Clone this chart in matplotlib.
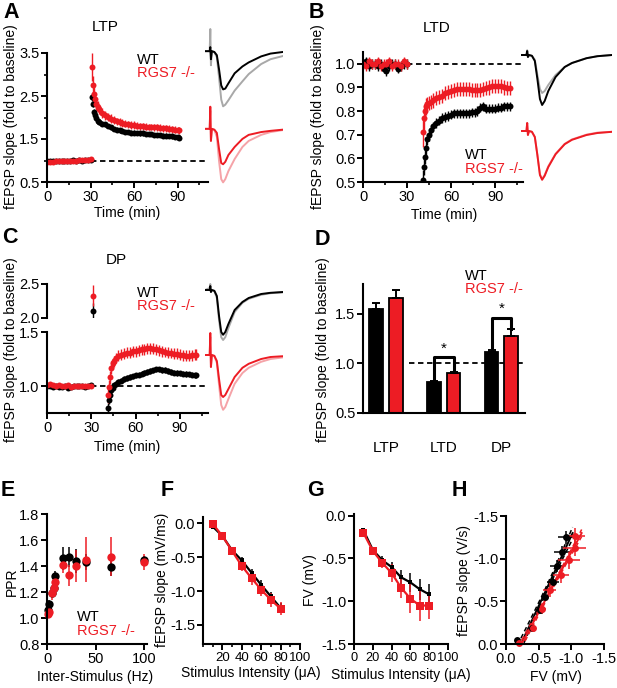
import numpy as np
import matplotlib
matplotlib.use('Agg')
import matplotlib.pyplot as plt
from matplotlib.ticker import MultipleLocator, FormatStrFormatter

plt.rcParams['font.family'] = ['Liberation Sans', 'DejaVu Sans']
plt.rcParams['axes.unicode_minus'] = False

RED = '#ed1c24'
GREY = '#a8a8a8'
PINK = '#f5a3a8'

# ---------------- data ----------------
# A: LTP time course
A_T_BASE = [0, 2, 4, 6, 8, 10, 12, 14, 16, 18, 20, 22, 24, 26, 28, 30]
A_WT_BASE = [0.98, 0.99, 0.98, 1.00, 0.99, 1.00, 0.99, 1.00, 1.00, 1.01, 1.00, 1.01, 1.00, 1.01, 1.02, 1.02]
A_KO_BASE = [0.96, 0.97, 0.97, 0.98, 0.98, 0.99, 0.99, 0.99, 1.00, 1.00, 1.00, 1.01, 1.01, 1.02, 1.02, 1.03]
A_BASE_ERR = [0.03, 0.03, 0.02, 0.03, 0.03, 0.02, 0.03, 0.03, 0.02, 0.03, 0.03, 0.02, 0.03, 0.03, 0.02, 0.03]
A_T_POST = [31, 31.7, 32.4, 33, 34, 35, 36, 38, 40, 42, 44, 46, 48, 50, 52, 54, 56, 58, 60, 62,
            64, 66, 68, 70, 72, 74, 76, 78, 80, 82, 84, 86, 88, 90, 91]
A_KO_POST = [3.18, 2.75, 2.55, 2.42, 2.32, 2.25, 2.19, 2.10, 2.05, 2.01, 1.97, 1.94, 1.91, 1.89, 1.87,
             1.86, 1.84, 1.83, 1.82, 1.81, 1.80, 1.80, 1.79, 1.78, 1.78, 1.77, 1.77, 1.76, 1.75, 1.75,
             1.74, 1.73, 1.72, 1.71, 1.70]
A_KO_ERR = [0.32, 0.22, 0.18, 0.15, 0.14, 0.13, 0.12, 0.11, 0.10, 0.10, 0.10, 0.10, 0.09, 0.09, 0.09,
            0.09, 0.09, 0.09, 0.09, 0.08, 0.08, 0.08, 0.08, 0.08, 0.08, 0.08, 0.08, 0.08, 0.08, 0.08,
            0.08, 0.08, 0.08, 0.08, 0.08]
A_WT_POST = [2.48, 2.32, 2.13, 2.05, 1.98, 1.93, 1.89, 1.86, 1.84, 1.80, 1.77, 1.74, 1.72, 1.70, 1.69,
             1.67, 1.66, 1.65, 1.65, 1.64, 1.63, 1.63, 1.62, 1.62, 1.61, 1.60, 1.60, 1.59, 1.58, 1.58,
             1.57, 1.56, 1.55, 1.54, 1.53]
A_WT_ERR = [0.10, 0.08, 0.07, 0.07, 0.07, 0.06, 0.06, 0.06, 0.05, 0.05, 0.05, 0.05, 0.05, 0.05, 0.05,
            0.05, 0.05, 0.05, 0.05, 0.05, 0.05, 0.05, 0.05, 0.05, 0.05, 0.05, 0.05, 0.05, 0.05, 0.05,
            0.05, 0.05, 0.05, 0.05, 0.05]

# B: LTD time course
B_T_BASE = [0, 2, 4, 6, 8, 10, 12, 14, 16, 18, 20, 22, 24, 26, 28, 30]
B_WT_BASE = [1.00, 1.01, 0.99, 1.00, 1.00, 0.99, 1.00, 0.98, 0.97, 0.99, 1.00, 1.00, 0.98, 0.99, 1.00, 1.00]
B_KO_BASE = [1.00, 0.99, 1.01, 1.00, 1.00, 1.01, 0.99, 1.00, 1.00, 1.01, 0.99, 1.00, 1.00, 0.99, 1.01, 1.00]
B_BASE_ERR = [0.02, 0.02, 0.02, 0.02, 0.02, 0.02, 0.02, 0.02, 0.02, 0.02, 0.02, 0.02, 0.02, 0.02, 0.02, 0.02]
B_T_POST = [40.7, 41.4, 42, 42.7, 43.6, 45, 46.5, 48, 50, 52, 54, 56, 58, 60, 62, 64, 66, 68, 70, 72,
            74, 76, 78, 80, 82, 84, 86, 88, 90, 92, 94, 96, 98, 100]
B_WT_POST = [0.51, 0.565, 0.605, 0.645, 0.68, 0.70, 0.72, 0.735, 0.75, 0.76, 0.77, 0.775, 0.78, 0.785,
             0.79, 0.79, 0.79, 0.79, 0.79, 0.79, 0.795, 0.795, 0.80, 0.815, 0.82, 0.81, 0.81, 0.81,
             0.81, 0.815, 0.815, 0.82, 0.82, 0.82]
B_WT_ERR = [0.04, 0.035, 0.03, 0.03, 0.025, 0.025, 0.02, 0.02, 0.02, 0.02, 0.02, 0.02, 0.02, 0.02,
            0.02, 0.02, 0.02, 0.02, 0.02, 0.02, 0.02, 0.02, 0.02, 0.02, 0.02, 0.02, 0.02, 0.02,
            0.02, 0.02, 0.02, 0.02, 0.02, 0.02]
B_KO_POST = [0.71, 0.77, 0.80, 0.82, 0.83, 0.835, 0.84, 0.845, 0.855, 0.86, 0.865, 0.875, 0.88, 0.885,
             0.89, 0.895, 0.895, 0.895, 0.895, 0.893, 0.89, 0.89, 0.888, 0.89, 0.893, 0.897, 0.90,
             0.905, 0.905, 0.907, 0.907, 0.90, 0.897, 0.897]
B_KO_ERR = [0.06, 0.05, 0.04, 0.035, 0.03, 0.03, 0.03, 0.03, 0.03, 0.03, 0.03, 0.03, 0.03, 0.03,
            0.03, 0.03, 0.03, 0.03, 0.03, 0.03, 0.03, 0.03, 0.03, 0.03, 0.03, 0.03, 0.03, 0.03,
            0.03, 0.03, 0.03, 0.03, 0.03, 0.03]

# C: DP time course
C_T_BASE = [0, 2, 4, 6, 8, 10, 12, 14, 16, 18, 20, 22, 24, 26, 28, 30]
C_WT_BASE = [1.00, 1.00, 0.99, 1.00, 0.99, 0.99, 1.00, 0.98, 0.99, 1.00, 1.00, 1.00, 1.00, 0.99, 1.00, 1.01]
C_KO_BASE = [1.01, 1.02, 1.01, 1.00, 1.01, 1.00, 1.00, 1.01, 0.99, 1.00, 1.00, 1.00, 1.00, 1.00, 1.00, 1.00]
C_BASE_ERR = [0.02, 0.02, 0.02, 0.02, 0.02, 0.02, 0.02, 0.02, 0.02, 0.02, 0.02, 0.02, 0.02, 0.02, 0.02, 0.02]
C_T_PEAK = [31.2]
C_WT_PEAK = [2.11]
C_WT_PEAK_ERR = [0.11]
C_KO_PEAK = [2.33]
C_KO_PEAK_ERR = [0.16]
C_T_POST = [41.6, 42.2, 42.7, 43.6, 44.5, 45.5, 46.6, 48, 50, 52, 54, 56, 58, 60, 62, 64, 66, 68, 70,
            72, 74, 76, 78, 80, 82, 84, 86, 88, 90, 92, 94, 96, 98, 100, 101]
C_WT_POST = [0.80, 0.87, 0.915, 0.96, 0.985, 1.006, 1.02, 1.036, 1.05, 1.065, 1.075, 1.085, 1.09, 1.10,
             1.105, 1.115, 1.125, 1.13, 1.14, 1.145, 1.155, 1.155, 1.15, 1.148, 1.14, 1.13, 1.125,
             1.12, 1.118, 1.113, 1.11, 1.108, 1.105, 1.10, 1.10]
C_WT_ERR = [0.04, 0.035, 0.03, 0.03, 0.025, 0.025, 0.025, 0.025, 0.025, 0.025, 0.025, 0.025, 0.025,
            0.025, 0.025, 0.025, 0.025, 0.025, 0.025, 0.025, 0.025, 0.025, 0.025, 0.025, 0.025, 0.025,
            0.025, 0.025, 0.025, 0.025, 0.025, 0.025, 0.025, 0.025, 0.025]
C_KO_POST = [0.915, 0.99, 1.08, 1.17, 1.21, 1.23, 1.26, 1.28, 1.29, 1.30, 1.31, 1.31, 1.32, 1.32, 1.33,
             1.34, 1.34, 1.35, 1.35, 1.345, 1.34, 1.33, 1.32, 1.315, 1.31, 1.305, 1.30, 1.30, 1.29,
             1.285, 1.28, 1.28, 1.285, 1.29, 1.29]
C_KO_ERR = [0.07, 0.07, 0.06, 0.06, 0.05, 0.05, 0.05, 0.05, 0.05, 0.05, 0.05, 0.05, 0.05, 0.05, 0.05,
            0.05, 0.05, 0.05, 0.05, 0.05, 0.05, 0.05, 0.05, 0.05, 0.05, 0.05, 0.05, 0.05, 0.05,
            0.05, 0.05, 0.05, 0.05, 0.05, 0.05]

# example fEPSP traces (time in ms, amplitude in mV)
TR_T = [0, 1.5, 1.7, 1.9, 2.2, 3.0, 3.8, 4.5, 5.2, 5.8, 6.5, 7.5, 9.5, 12, 14, 18, 21, 25]
A_TR_WT_BASE = [0, 0, 0.55, -0.35, 0.0, -0.03, -0.15, -0.65, -1.20, -1.37, -1.33, -1.22, -0.98, -0.75, -0.57, -0.32, -0.20, -0.12]
A_TR_WT_POST = [0, 0, 0.10, -0.20, 0.0, -0.02, -0.10, -0.45, -0.85, -0.95, -0.93, -0.80, -0.55, -0.38, -0.28, -0.13, -0.06, -0.02]
A_TR_KO_BASE = [0, 0, 0.45, -0.30, 0.0, -0.03, -0.20, -0.80, -1.25, -1.33, -1.25, -1.05, -0.75, -0.45, -0.30, -0.15, -0.08, -0.03]
A_TR_KO_POST = [0, 0, 0.55, -0.30, 0.0, -0.02, -0.10, -0.50, -0.85, -0.88, -0.82, -0.65, -0.45, -0.25, -0.15, -0.08, -0.05, -0.02]
B_TR_WT_BASE = [0, 0, 0.12, -0.05, 0, -0.02, -0.12, -0.50, -0.85, -0.95, -0.90, -0.75, -0.50, -0.30, -0.20, -0.08, -0.03, 0.0]
B_TR_WT_POST = [0, 0, 0.10, -0.05, 0, -0.02, -0.15, -0.60, -1.10, -1.25, -1.15, -0.90, -0.55, -0.30, -0.20, -0.08, -0.03, 0.0]
B_TR_KO_BASE = [0, 0, 0.20, -0.10, 0, -0.02, -0.15, -0.60, -1.08, -1.20, -1.10, -0.88, -0.57, -0.32, -0.21, -0.09, -0.04, -0.02]
B_TR_KO_POST = [0, 0, 0.20, -0.10, 0, -0.02, -0.15, -0.60, -1.10, -1.22, -1.12, -0.90, -0.58, -0.33, -0.22, -0.10, -0.05, -0.02]
C_TR_WT_BASE = [0, 0.05, 0.15, -0.05, 0, -0.03, -0.20, -0.75, -1.18, -1.25, -1.18, -0.95, -0.55, -0.32, -0.22, -0.12, -0.08, -0.06]
C_TR_WT_POST = [0, 0, 0.10, -0.05, 0, -0.02, -0.15, -0.65, -1.05, -1.12, -1.05, -0.85, -0.50, -0.30, -0.20, -0.10, -0.07, -0.05]
C_TR_KO_BASE = [0, 0, 0.45, -0.30, 0, -0.03, -0.20, -0.75, -1.25, -1.37, -1.30, -1.10, -0.72, -0.45, -0.32, -0.17, -0.10, -0.06]
C_TR_KO_POST = [0, 0, 0.55, -0.30, 0, -0.02, -0.15, -0.60, -1.00, -1.05, -1.00, -0.85, -0.55, -0.32, -0.22, -0.10, -0.05, -0.03]

# D: summary bars
D_GROUPS = ['LTP', 'LTD', 'DP']
D_WT = [1.55, 0.815, 1.11]
D_WT_ERR = [0.055, 0.012, 0.022]
D_KO = [1.66, 0.903, 1.28]
D_KO_ERR = [0.08, 0.014, 0.063]

# E: paired-pulse ratio
E_HZ = [1, 2.5, 5, 6.7, 8.5, 16.4, 23, 29.5, 40, 66, 100]
E_WT = [1.06, 1.11, 1.19, 1.23, 1.32, 1.46, 1.47, 1.44, 1.43, 1.39, 1.45]
E_WT_ERR = [0.03, 0.03, 0.03, 0.03, 0.04, 0.09, 0.08, 0.09, 0.06, 0.07, 0.03]
E_KO = [1.03, 1.05, 1.19, 1.23, 1.28, 1.41, 1.33, 1.40, 1.45, 1.47, 1.43]
E_KO_ERR = [0.03, 0.04, 0.05, 0.05, 0.04, 0.06, 0.08, 0.12, 0.17, 0.15, 0.06]

# F, G: input-output
STIM = [10, 20, 30, 40, 50, 60, 70, 80]
F_WT = [-0.05, -0.19, -0.40, -0.55, -0.73, -0.91, -1.08, -1.25]
F_WT_ERR = [0.02, 0.03, 0.04, 0.05, 0.06, 0.07, 0.07, 0.08]
F_KO = [-0.01, -0.19, -0.41, -0.63, -0.81, -0.98, -1.13, -1.26]
F_KO_ERR = [0.03, 0.04, 0.06, 0.08, 0.10, 0.10, 0.10, 0.10]
G_WT = [-0.17, -0.40, -0.52, -0.60, -0.72, -0.78, -0.86, -0.92]
G_WT_ERR = [0.03, 0.04, 0.05, 0.06, 0.09, 0.11, 0.12, 0.12]
G_KO = [-0.20, -0.41, -0.55, -0.67, -0.84, -0.97, -1.05, -1.05]
G_KO_ERR = [0.03, 0.04, 0.06, 0.10, 0.12, 0.17, 0.18, 0.16]

# ---------------- figure ----------------
W, H = 617, 688
fig = plt.figure(figsize=(W / 100, H / 100), dpi=100)

TICK = 10.5
LAB = 10
LEG = 10.5


def box(l, t, r, b):
    return fig.add_axes([l / W, 1 - b / H, (r - l) / W, (b - t) / H])


def txt(x, y, s, **kw):
    kw.setdefault('ha', 'center')
    kw.setdefault('va', 'center')
    fig.text(x / W, 1 - y / H, s, **kw)


def style(ax):
    for s in ['top', 'right']:
        ax.spines[s].set_visible(False)
    for s in ['left', 'bottom']:
        ax.spines[s].set_linewidth(1.5)
    ax.tick_params(direction='out', length=4, width=1.4, labelsize=TICK, pad=1.5)
    ax.tick_params(which='minor', length=2.5, width=1.2)
    ax.patch.set_alpha(0)


def tc(ax, t, y, e, c):
    ax.errorbar(t, y, yerr=e, fmt='o', color=c, ms=4.3, mew=0,
                elinewidth=1.0, capsize=1.8, capthick=1.0)


def traces(ax, items):
    for vals, col, off in items:
        ax.plot(TR_T, np.array(vals) + off, color=col, lw=1.4, solid_joinstyle='round')
    ax.set_xlim(0, 25)
    ax.axis('off')


def legend(x, y1, y2, size=LEG):
    txt(x, y1, 'WT', ha='left', fontsize=size, color='black')
    txt(x, y2, 'RGS7 -/-', ha='left', fontsize=size, color=RED)


YLAB = 'fEPSP slope (fold to baseline)'

# ---- A ----
axA = box(47, 53, 208, 182)
style(axA)
tc(axA, A_T_BASE, A_WT_BASE, A_BASE_ERR, 'black')
tc(axA, A_T_POST, A_WT_POST, A_WT_ERR, 'black')
tc(axA, A_T_BASE, A_KO_BASE, A_BASE_ERR, RED)
tc(axA, A_T_POST, A_KO_POST, A_KO_ERR, RED)
axA.plot([30, 111], [1, 1], 'k--', lw=1.3, dashes=(3, 2), zorder=0)
axA.set_xlim(0, 111)
axA.set_ylim(0.5, 3.5)
axA.set_xticks([0, 30, 60, 90])
axA.xaxis.set_minor_locator(MultipleLocator(15))
axA.set_yticks([0.5, 1.5, 2.5, 3.5])
axA.yaxis.set_minor_locator(MultipleLocator(0.5))
axA.yaxis.set_major_formatter(FormatStrFormatter('%.1f'))
txt(127, 213, 'Time (min)', fontsize=LAB)
txt(11, 117, YLAB, rotation=90, fontsize=LAB)
txt(105, 27, 'LTP', fontsize=11)
legend(137, 60, 73)
trA = box(205, 25, 283, 188)
traces(trA, [(A_TR_WT_BASE, GREY, 0), (A_TR_WT_POST, 'black', 0),
             (A_TR_KO_BASE, PINK, -1.93), (A_TR_KO_POST, RED, -1.93)])
trA.set_ylim(-3.4, 0.65)

# ---- B ----
axB = box(363, 52, 523, 182)
style(axB)
tc(axB, B_T_BASE, B_WT_BASE, B_BASE_ERR, 'black')
tc(axB, B_T_POST, B_WT_POST, B_WT_ERR, 'black')
tc(axB, B_T_BASE, B_KO_BASE, B_BASE_ERR, RED)
tc(axB, B_T_POST, B_KO_POST, B_KO_ERR, RED)
axB.plot([30, 109], [1, 1], 'k--', lw=1.3, dashes=(3, 2), zorder=0)
axB.set_xlim(0, 109)
axB.set_ylim(0.5, 1.05)
axB.set_xticks([0, 30, 60, 90])
axB.xaxis.set_minor_locator(MultipleLocator(15))
axB.set_yticks([0.5, 0.6, 0.7, 0.8, 0.9, 1.0])
axB.yaxis.set_major_formatter(FormatStrFormatter('%.1f'))
txt(444, 215, 'Time (min)', fontsize=LAB)
txt(318, 117, YLAB, rotation=90, fontsize=LAB)
txt(437, 28, 'LTD', fontsize=11)
legend(465, 155, 169)
trB = box(521, 35, 612, 190)
traces(trB, [(B_TR_WT_BASE, GREY, 0), (B_TR_WT_POST, 'black', 0),
             (B_TR_KO_BASE, PINK, -1.9), (B_TR_KO_POST, RED, -1.9)])
trB.set_ylim(-3.375, 0.5)

# ---- C (broken axis) ----
axCu = box(47, 284, 208, 318)
axC = box(47, 332, 208, 413)
for ax in (axCu, axC):
    style(ax)
    ax.set_xlim(0, 109)
axCu.spines['bottom'].set_visible(False)
axCu.tick_params(axis='x', which='both', bottom=False, labelbottom=False)
tc(axCu, C_T_PEAK, C_WT_PEAK, C_WT_PEAK_ERR, 'black')
tc(axCu, C_T_PEAK, C_KO_PEAK, C_KO_PEAK_ERR, RED)
axCu.set_ylim(2.0, 2.5)
axCu.set_yticks([2.0, 2.5])
axCu.yaxis.set_major_formatter(FormatStrFormatter('%.1f'))
tc(axC, C_T_BASE, C_WT_BASE, C_BASE_ERR, 'black')
tc(axC, C_T_POST, C_WT_POST, C_WT_ERR, 'black')
tc(axC, C_T_BASE, C_KO_BASE, C_BASE_ERR, RED)
tc(axC, C_T_POST, C_KO_POST, C_KO_ERR, RED)
axC.plot([30, 109], [1, 1], 'k--', lw=1.3, dashes=(3, 2), zorder=0)
axC.set_ylim(0.75, 1.5)
axC.set_yticks([1.0, 1.5])
axC.yaxis.set_major_formatter(FormatStrFormatter('%.1f'))
axC.set_xticks([0, 30, 60, 90])
axC.xaxis.set_minor_locator(MultipleLocator(15))
txt(127, 447, 'Time (min)', fontsize=LAB)
txt(11, 350, YLAB, rotation=90, fontsize=LAB)
txt(116, 260, 'DP', fontsize=11)
legend(137, 293, 306)
trC = box(205, 275, 283, 420)
traces(trC, [(C_TR_WT_BASE, GREY, 0), (C_TR_WT_POST, 'black', 0),
             (C_TR_KO_BASE, PINK, -1.625), (C_TR_KO_POST, RED, -1.625)])
trC.set_ylim(-3.25, 0.375)

# ---- D ----
axD = box(363, 284, 525, 413)
style(axD)
xg = np.arange(len(D_GROUPS))
off, bw = 0.17, 0.235
axD.bar(xg - off, D_WT, bw, bottom=0, color='black', edgecolor='black', lw=1.3,
        yerr=[np.zeros(3), D_WT_ERR], capsize=3, error_kw=dict(elinewidth=1.4, capthick=1.4))
axD.bar(xg + off, D_KO, bw, bottom=0, color=RED, edgecolor='black', lw=1.3,
        yerr=[np.zeros(3), D_KO_ERR], capsize=3, error_kw=dict(elinewidth=1.4, capthick=1.4))
axD.plot([0.4, 2.41], [1, 1], 'k--', lw=1.3, dashes=(3, 2), zorder=0)
for i, hb in [(1, 1.06), (2, 1.46)]:
    axD.plot([i - off, i - off, i + off, i + off],
             [D_WT[i] + D_WT_ERR[i], hb, hb, D_KO[i] + D_KO_ERR[i]], color='black', lw=2.2)
    axD.text(i, hb + 0.02, '*', ha='center', va='bottom', fontsize=11)
axD.set_xlim(-0.4, 2.41)
axD.set_ylim(0.5, 1.8)
axD.set_yticks([0.5, 1.0, 1.5])
axD.yaxis.set_major_formatter(FormatStrFormatter('%.1f'))
axD.set_xticks(xg)
axD.set_xticklabels(D_GROUPS, fontsize=11)
axD.tick_params(axis='x', length=0, pad=20)
txt(323, 350, YLAB, rotation=90, fontsize=LAB)
legend(465, 276, 289)

# ---- E ----
axE = box(47, 514, 147, 644)
style(axE)
axE.errorbar(E_HZ, E_WT, yerr=E_WT_ERR, fmt='o', color='black', ms=6, mew=0,
             elinewidth=1.1, capsize=3, capthick=1.1, clip_on=False)
axE.errorbar(E_HZ, E_KO, yerr=E_KO_ERR, fmt='o', color=RED, ms=6, mew=0,
             elinewidth=1.1, capsize=3, capthick=1.1, clip_on=False)
axE.set_xlim(0, 103)
axE.set_ylim(0.8, 1.8)
axE.set_xticks([0, 50, 100])
axE.set_yticks([0.8, 1.0, 1.2, 1.4, 1.6, 1.8])
axE.yaxis.set_major_formatter(FormatStrFormatter('%.1f'))
txt(95, 677, 'Inter-Stimulus (Hz)', fontsize=LAB)
txt(12, 582, 'PPR', rotation=90, fontsize=LAB)
legend(77, 617, 631)

# ---- F ----
axF = box(203, 517, 300, 644)
style(axF)
axF.errorbar(STIM, F_WT, yerr=F_WT_ERR, fmt='-s', color='black', ms=3.5, mew=0, lw=1.6,
             elinewidth=1.1, capsize=2.5, capthick=1.1)
axF.errorbar(STIM, F_KO, yerr=F_KO_ERR, fmt='-s', color=RED, ms=5.5, mew=0, lw=1.6,
             elinewidth=1.1, capsize=2.5, capthick=1.1, clip_on=False)
axF.set_xlim(0, 100)
axF.set_ylim(-1.78, 0.09)
axF.set_xticks([20, 40, 60, 80, 100])
axF.xaxis.set_minor_locator(MultipleLocator(10))
axF.tick_params(axis='x', labelsize=9.5)
axF.set_yticks([0, -0.5, -1.0, -1.5])
axF.yaxis.set_major_formatter(FormatStrFormatter('%.1f'))
txt(251, 673, 'Stimulus Intensity (\u03bcA)', fontsize=LAB)
txt(162, 580, 'fEPSP slope (mV/ms)', rotation=90, fontsize=LAB)

# ---- G ----
axG = box(354, 514, 448, 644)
style(axG)
axG.errorbar(STIM, G_WT, yerr=G_WT_ERR, fmt='-s', color='black', ms=3.5, mew=0, lw=1.6,
             elinewidth=1.1, capsize=2.5, capthick=1.1)
axG.errorbar(STIM, G_KO, yerr=G_KO_ERR, fmt='-s', color=RED, ms=5.5, mew=0, lw=1.6,
             elinewidth=1.1, capsize=2.5, capthick=1.1)
axG.set_xlim(0, 100)
axG.set_ylim(-1.5, 0.02)
axG.set_xticks([0, 20, 40, 60, 80, 100])
axG.tick_params(axis='x', labelsize=9.2)
axG.set_yticks([0, -0.5, -1.0, -1.5])
axG.yaxis.set_major_formatter(FormatStrFormatter('%.1f'))
txt(401, 675, 'Stimulus Intensity (\u03bcA)', fontsize=LAB)
txt(310, 580, 'FV (mV)', rotation=90, fontsize=LAB)

# ---- H ----
axH = box(506, 516, 604, 644)
style(axH)
for gx, gxe, fy, fye, col in [(G_WT, G_WT_ERR, F_WT, F_WT_ERR, 'black'),
                               (G_KO, G_KO_ERR, F_KO, F_KO_ERR, RED)]:
    x = np.array(gx)
    y = np.array(fy)
    m, b = np.polyfit(x, y, 1)
    n = len(x)
    res = y - (m * x + b)
    s = np.sqrt(np.sum(res ** 2) / (n - 2))
    sxx = np.sum((x - x.mean()) ** 2)
    xl = np.linspace((0 - b) / m, (-1.3 - b) / m, 50)
    band = s * np.sqrt(1 / n + (xl - x.mean()) ** 2 / sxx)
    axH.plot(xl, m * xl + b, color=col, lw=1.4)
    axH.plot(xl, m * xl + b + band, color=col, lw=1.1, ls='--', dashes=(3, 2))
    axH.plot(xl, m * xl + b - band, color=col, lw=1.1, ls='--', dashes=(3, 2))
    axH.errorbar(gx, fy, xerr=gxe, yerr=fye, fmt='o', color=col, ms=5, mew=0,
                 elinewidth=1.1, capsize=2, capthick=1.1, clip_on=False)
axH.set_xlim(0, -1.5)
axH.set_ylim(0, -1.5)
axH.set_xticks([0, -0.5, -1.0, -1.5])
axH.set_yticks([0, -0.5, -1.0, -1.5])
axH.xaxis.set_major_formatter(FormatStrFormatter('%.1f'))
axH.yaxis.set_major_formatter(FormatStrFormatter('%.1f'))
txt(556, 677, 'FV (mV)', fontsize=LAB)
txt(464, 580, 'fEPSP slope (V/s)', rotation=90, fontsize=LAB)

# panel letters
for lab, x, y in [('A', 11, 12), ('B', 316, 12), ('C', 10, 238), ('D', 322, 240),
                  ('E', 8, 491), ('F', 167, 491), ('G', 315, 491), ('H', 459, 491)]:
    txt(x, y, lab, fontsize=15.5, fontweight='bold')

fig.savefig('out.png', dpi=100)
